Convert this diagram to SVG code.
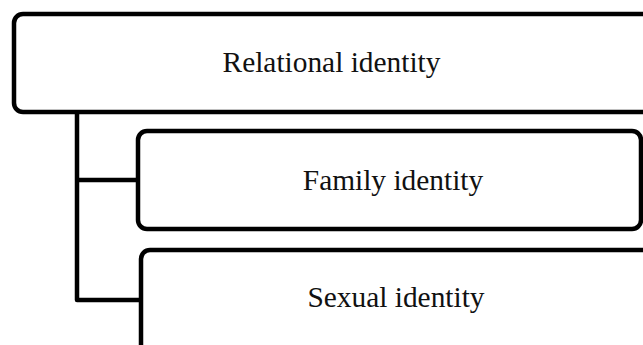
<svg xmlns="http://www.w3.org/2000/svg" width="643" height="345" viewBox="0 0 643 345">
<style>
.box{fill:#fff;stroke:#000;stroke-width:4.5}
.lbl{font-family:"Liberation Serif","Times New Roman",serif;font-size:29.4px;fill:#111;text-anchor:middle}
.conn{fill:none;stroke:#000;stroke-width:4.5;stroke-linejoin:round}
</style>
<rect width="643" height="345" fill="#fff"/>
<g id="connectors">
<path class="conn" d="M77,112 V300 H141 M77,180 H138"/>
</g>
<g id="relational">
<rect class="box" x="14" y="14" width="650" height="98" rx="9"/>
<text class="lbl" x="331.5" y="72">Relational identity</text>
</g>
<g id="family">
<rect class="box" x="138" y="131" width="503" height="98" rx="9"/>
<text class="lbl" x="393" y="190">Family identity</text>
</g>
<g id="sexual">
<rect class="box" x="141" y="250" width="520" height="120" rx="9"/>
<text class="lbl" x="396" y="307">Sexual identity</text>
</g>
</svg>
